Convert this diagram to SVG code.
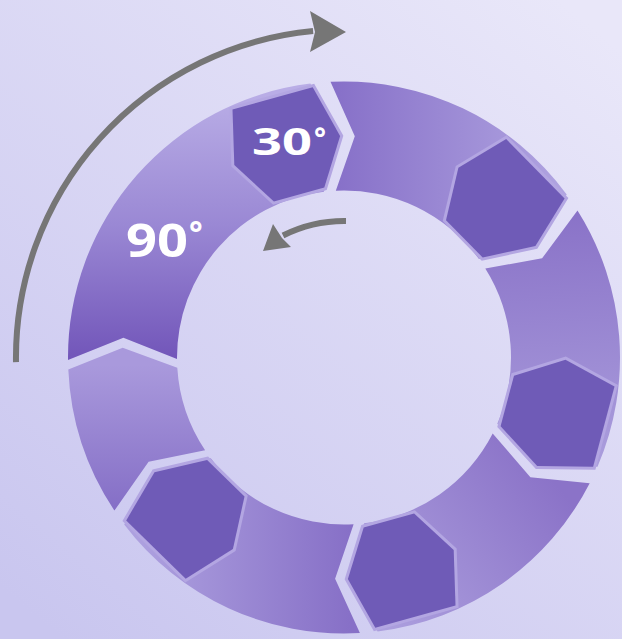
<svg xmlns="http://www.w3.org/2000/svg" xmlns:xlink="http://www.w3.org/1999/xlink" width="622" height="639" viewBox="0 0 622 639">
  <defs>
    <linearGradient id="bg" x1="0.9" y1="0" x2="0.1" y2="1">
      <stop offset="0" stop-color="#e9e7f9"/>
      <stop offset="1" stop-color="#c9c6ef"/>
    </linearGradient>
    <linearGradient id="g1" gradientUnits="userSpaceOnUse" x1="0" y1="355" x2="0" y2="95">
      <stop offset="0" stop-color="#7357ba"/>
      <stop offset="0.5" stop-color="#9a88d4"/>
      <stop offset="1" stop-color="#b9ade6"/>
    </linearGradient>
    <linearGradient id="g2" gradientUnits="userSpaceOnUse" x1="330" y1="0" x2="570" y2="0">
      <stop offset="0" stop-color="#866fc8"/>
      <stop offset="1" stop-color="#b1a5e1"/>
    </linearGradient>
    <linearGradient id="g3" gradientUnits="userSpaceOnUse" x1="570" y1="215" x2="590" y2="470">
      <stop offset="0" stop-color="#8a73c8"/>
      <stop offset="1" stop-color="#ab9edd"/>
    </linearGradient>
    <linearGradient id="g4" gradientUnits="userSpaceOnUse" x1="545" y1="470" x2="370" y2="610">
      <stop offset="0" stop-color="#8b73c8"/>
      <stop offset="1" stop-color="#ac9fde"/>
    </linearGradient>
    <linearGradient id="g5" gradientUnits="userSpaceOnUse" x1="350" y1="0" x2="140" y2="0">
      <stop offset="0" stop-color="#8770c7"/>
      <stop offset="1" stop-color="#ada0df"/>
    </linearGradient>
    <linearGradient id="g6" gradientUnits="userSpaceOnUse" x1="0" y1="505" x2="0" y2="365">
      <stop offset="0" stop-color="#8670c7"/>
      <stop offset="1" stop-color="#a999dc"/>
    </linearGradient>
    <polygon id="h1" points="340.1,136 312.7,87.3 232.5,109.4 234.3,165.1 273.9,201.5 324.3,187.6"/>
    <polygon id="h2" points="535.4,246.1 564.6,198.4 506.2,139.1 458.4,167.8 446,220.2 482.7,257.5"/>
    <polygon id="h3" points="537.2,465.9 593.1,466.8 614.5,386.4 565.5,359.8 514,375.7 500.6,426.2"/>
    <polygon id="h4" points="347.9,579 375.3,627.7 455.5,605.6 453.7,549.9 414.1,513.5 363.7,527.4"/>
    <polygon id="h5" points="154.5,472.2 126.2,520.4 185.7,578.7 232.9,549.1 244.5,496.5 207.1,459.9"/>
  </defs>
  <style>
    .hb { fill: #b3a6e2; stroke: #b3a6e2; stroke-width: 6; stroke-linejoin: miter; }
    .hf { fill: #6f5bb7; }
    .lbl { fill: #ffffff; font-family: "Open Sans", "Lato", sans-serif; font-weight: 700; }
    .arr { fill: none; stroke: #767676; stroke-width: 6; }
    .head { fill: #767676; }
  </style>
  <rect x="0" y="0" width="622" height="639" fill="url(#bg)"/>

  <g id="seg1">
    <path d="M68,359.9 A276,276 0 0 1 310.4,83.6 L340.1,136 L323.9,191.7 A167,167 0 0 0 177,359 L123.4,337.8 Z" fill="url(#g1)"/>
    <use xlink:href="#h1" class="hb"/>
    <use xlink:href="#h1" class="hf"/>
    <text class="lbl" x="252" y="155" font-size="38"><tspan textLength="60" lengthAdjust="spacingAndGlyphs">30</tspan><tspan font-size="28" dx="2" dy="-7">°</tspan></text>
    <text class="lbl" x="126" y="257" font-size="46"><tspan textLength="62" lengthAdjust="spacingAndGlyphs">90</tspan><tspan font-size="32" dx="1" dy="-12">°</tspan></text>
  </g>
  <g id="seg2">
    <path d="M330.5,81.8 A276,276 0 0 1 566.7,194.5 L535.4,246.1 L478.9,259.1 A167,167 0 0 0 335.8,190.7 L354.8,136.3 Z" fill="url(#g2)"/>
    <use xlink:href="#h2" class="hb"/>
    <use xlink:href="#h2" class="hf"/>
  </g>
  <g id="seg3">
    <path d="M577.5,210.4 A276,276 0 0 1 597.5,466.7 L537.2,465.9 L497.3,423.8 A167,167 0 0 0 485.3,268.5 L542.1,258.3 Z" fill="url(#g3)"/>
    <use xlink:href="#h3" class="hb"/>
    <use xlink:href="#h3" class="hf"/>
  </g>
  <g id="seg4">
    <path d="M589.7,483.2 A276,276 0 0 1 377.6,631.4 L347.9,579 L364.1,523.3 A167,167 0 0 0 492.7,433.6 L530.4,477.2 Z" fill="url(#g4)"/>
    <use xlink:href="#h4" class="hb"/>
    <use xlink:href="#h4" class="hf"/>
  </g>
  <g id="seg5">
    <path d="M359.9,633 A276,276 0 0 1 124.2,524.4 L154.5,472.2 L210.8,458.2 A167,167 0 0 0 353.6,524.2 L335.1,578.8 Z" fill="url(#g5)"/>
    <use xlink:href="#h5" class="hb"/>
    <use xlink:href="#h5" class="hf"/>
  </g>
  <g id="seg6">
    <path d="M114.4,510.6 A276,276 0 0 1 68.3,369.5 L122.7,347.8 L177.3,367.7 A167,167 0 0 0 205.1,450.2 L148.6,461.8 Z" fill="url(#g6)"/>
  </g>

  <g id="connectors">
    <path class="arr" d="M16,362.1 A328,328 0 0 1 313.1,31"/>
    <polygon class="head" points="310,11 346,32 310,52 315,32"/>
    <path class="arr" d="M346,221 A136.5,136.5 0 0 0 283,235.5"/>
    <polygon class="head" points="273,224 263,251 291,247 282,238"/>
  </g>
</svg>
